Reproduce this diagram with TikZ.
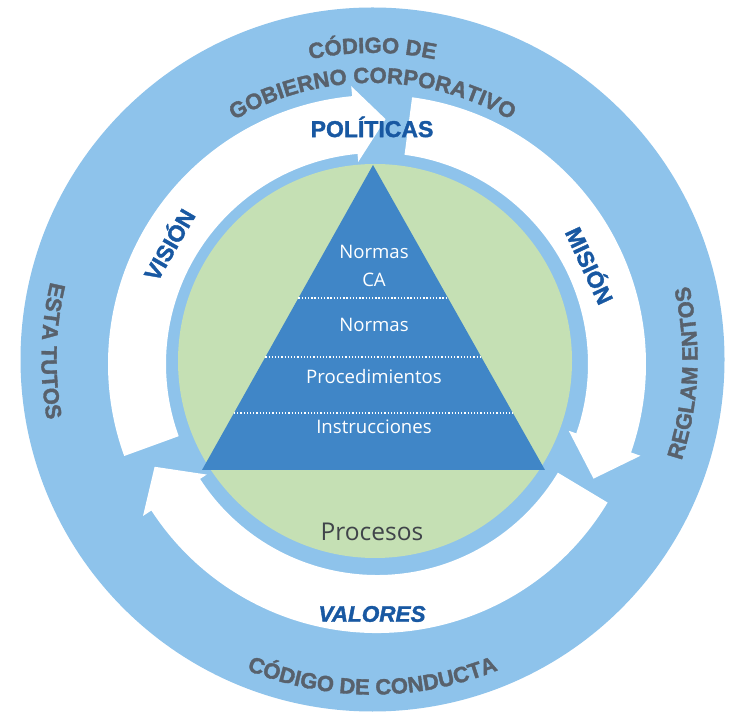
\documentclass[tikz,border=0pt]{standalone}
\usepackage{fontspec}
\setmainfont{Liberation Sans}
\newfontfamily\osans{Open Sans}
\newfontfamily\heavysans[FakeBold=1.6]{Liberation Sans Bold}
\newfontfamily\heavysansit[FakeBold=1.6]{Liberation Sans Bold Italic}
\usetikzlibrary{decorations.text,calc}
\definecolor{ringblue}{RGB}{142,195,235}
\definecolor{leafgreen}{RGB}{197,224,180}
\definecolor{pyrblue}{RGB}{64,134,199}
\definecolor{labelblue}{RGB}{24,88,162}
\definecolor{ringgray}{RGB}{88,97,108}
\definecolor{procgray}{RGB}{64,68,74}
\newcommand\ringfont{\heavysans\fontsize{22}{22}\selectfont\color{ringgray}}
\newcommand\lblfont{\heavysans\fontsize{23}{23}\selectfont\color{labelblue}}
\newcommand\lblitfont{\heavysansit\fontsize{22.5}{22.5}\selectfont\color{labelblue}}
% tail angle, barb angle, tip angle
\newcommand\circarrow[3]{%
  \fill[white] ([shift={(A)}]#1:269) arc[start angle=#1, end angle=#2, radius=269]
    -- ([shift={(A)}]#2:279) -- ([shift={(A)}]#3:245) -- ([shift={(A)}]#2:203)
    -- ([shift={(A)}]#2:211) arc[start angle=#2, end angle=#1, radius=211] -- cycle;}
\tikzset{
  pyrtext/.style={text=white, font=\osans\fontsize{18.6}{18.6}\selectfont, inner sep=0pt},
  dotline/.style={white, line width=1.3pt, dash pattern=on 1.3pt off 1.9pt},
  arrowlabel/.style={font=\lblfont, inner sep=0pt},
}
\begin{document}
\begin{tikzpicture}[x=1pt,y=1pt]
\useasboundingbox (0,0) rectangle (730,720);
\fill[white] (0,0) rectangle (730,720);
\coordinate (O) at (372.5,360.5);
\coordinate (A) at (377,356);
\coordinate (G) at (375,359);
% outer disc
\fill[ringblue] (O) circle[radius=352];
% three circular arrows
\circarrow{200}{95.3}{88}
\circarrow{82.5}{-19.2}{-27.9}
\circarrow{-31}{-147}{-155.2}
% green disc
\fill[leafgreen] (G) circle[radius=197];
% pyramid
\coordinate (apex) at (373,555);
\coordinate (bl) at (202,250);
\coordinate (br) at (545,250);
\fill[pyrblue] (apex) -- (br) -- (bl) -- cycle;
\coordinate (l1) at ($(apex)!0.436!(bl)$);
\coordinate (r1) at ($(apex)!0.436!(br)$);
\coordinate (l2) at ($(apex)!0.6295!(bl)$);
\coordinate (r2) at ($(apex)!0.6295!(br)$);
\coordinate (l3) at ($(apex)!0.813!(bl)$);
\coordinate (r3) at ($(apex)!0.813!(br)$);
\draw[dotline] (l1) -- (r1);
\draw[dotline] (l2) -- (r2);
\draw[dotline] (l3) -- (r3);
\node[pyrtext] (nca1) at (374,468) {Normas};
\node[pyrtext] (nca2) at (374,440) {CA};
\node[pyrtext] (nor) at (374,395) {Normas};
\node[pyrtext] (proc) at (374,343) {Procedimientos};
\node[pyrtext] (inst) at (374,293) {Instrucciones};
\node[text=procgray, font=\osans\fontsize{24.5}{24.5}\selectfont, inner sep=0pt] (procesos) at (372,188) {Procesos};
% outer ring texts
\path[decorate, decoration={text along path, text align=center, text={|\ringfont|CÓDIGO DE}}]
  ([shift={(O)}]160:306.5) arc[start angle=160, end angle=20, radius=306.5];
\path[decorate, decoration={text along path, text align=center, text={|\ringfont|GOBIERNO CORPORATIVO}}]
  ([shift={(O)}]160:276.5) arc[start angle=160, end angle=20, radius=276.5];
\path[decorate, decoration={text along path, text align=center, text={|\ringfont|CÓDIGO DE CONDUCTA}}]
  ([shift={(O)}]200:335) arc[start angle=200, end angle=340, radius=335];
\path[decorate, decoration={text along path, text align=center, text={|\ringfont|ESTA TUTOS}}]
  ([shift={(O)}]97:331) arc[start angle=97, end angle=260, radius=331];
\path[decorate, decoration={text along path, text align=center, text={|\ringfont|REGLAM ENTOS}}]
  ([shift={(O)}]-85:325) arc[start angle=-85, end angle=80, radius=325];
% arrow labels
\node[arrowlabel] (pol) at (372,593) {POLÍTICAS};
\node[arrowlabel, rotate=60] (vis) at (168,476) {VISIÓN};
\node[arrowlabel, rotate=-65] (mis) at (591,455) {MISIÓN};
\node[arrowlabel, font=\lblitfont] (val) at (372,106) {VALORES};
\end{tikzpicture}
\end{document}
